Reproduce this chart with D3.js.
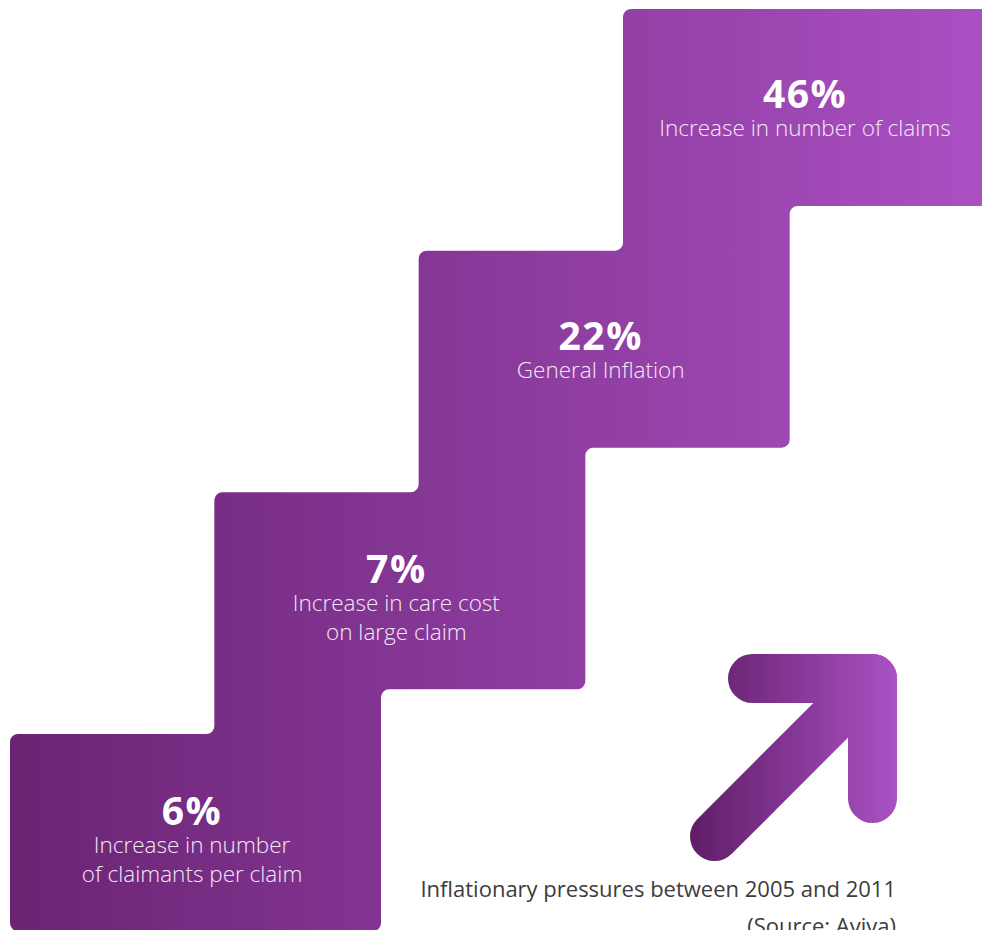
<!DOCTYPE html>
<html>
<head>
<meta charset="utf-8">
<script src="https://cdn.jsdelivr.net/npm/d3@7"></script>
<style>
  html, body { margin: 0; padding: 0; background: #fff; }
  svg { display: block; }
</style>
</head>
<body>
<svg width="982" height="930"></svg>
<script>
(function() {
    'use strict';

    // step data, bottom step first
    let values = ["6%", "7%", "22%", "46%"];
    let labels = [
        ["Increase in number", "of claimants per claim"],
        ["Increase in care cost", "on large claim"],
        ["General Inflation"],
        ["Increase in number of claims"]
    ];
    let caption = ["Inflationary pressures between 2005 and 2011", "(Source: Aviva)"];

    let width = 982, height = 930;
    let svg = d3.select("svg");

    let stepWidth = 371;
    let stepHeight = 197;
    let radius = 8;
    let lineGap = 29;

    let idx = d3.range(values.length);
    let xScale = d3.scaleLinear().domain([0, values.length - 1]).range([10, 623]);
    let yScale = d3.scaleLinear().domain([0, values.length - 1]).range([734, 9]);

    let steps = idx.map(function(i) {
        return {
            L: xScale(i),
            R: xScale(i) + stepWidth,
            T: yScale(i),
            B: yScale(i) + stepHeight,
            value: values[i],
            label: labels[i]
        };
    });

    let defs = svg.append("defs");
    let grad = defs.append("linearGradient")
        .attr("id", "stairGrad")
        .attr("gradientUnits", "userSpaceOnUse")
        .attr("x1", xScale(0)).attr("x2", width)
        .attr("y1", 0).attr("y2", 0);
    grad.append("stop").attr("offset", 0).attr("stop-color", "#6a2473");
    grad.append("stop").attr("offset", 1).attr("stop-color", "#aa50c3");

    // staircase outline, union of the step boxes with rounded corners
    function stairPath(s) {
        let r = radius, n = s.length;
        let p = d3.path();
        p.moveTo(s[0].L, s[0].B - r);
        p.lineTo(s[0].L, s[0].T + r);
        p.arcTo(s[0].L, s[0].T, s[0].L + r, s[0].T, r);
        for (let k = 1; k < n; k++) {
            p.lineTo(s[k].L - r, s[k - 1].T);
            p.arcTo(s[k].L, s[k - 1].T, s[k].L, s[k - 1].T - r, r);
            p.lineTo(s[k].L, s[k].T + r);
            p.arcTo(s[k].L, s[k].T, s[k].L + r, s[k].T, r);
        }
        let last = s[n - 1];
        p.lineTo(last.R - r, last.T);
        p.arcTo(last.R, last.T, last.R, last.T + r, r);
        p.lineTo(last.R, last.B - r);
        p.arcTo(last.R, last.B, last.R - r, last.B, r);
        for (let k = n - 2; k >= 0; k--) {
            p.lineTo(s[k].R + r, s[k + 1].B);
            p.arcTo(s[k].R, s[k + 1].B, s[k].R, s[k + 1].B + r, r);
            p.lineTo(s[k].R, s[k].B - r);
            p.arcTo(s[k].R, s[k].B, s[k].R - r, s[k].B, r);
        }
        p.lineTo(s[0].L + r, s[0].B);
        p.arcTo(s[0].L, s[0].B, s[0].L, s[0].B - r, r);
        p.closePath();
        return p.toString();
    }

    svg.append("path")
        .attr("d", stairPath(steps))
        .attr("fill", "url(#stairGrad)");

    // labels
    let g = svg.selectAll("g.step")
        .data(steps)
        .enter().append("g")
        .attr("class", "step")
        .attr("transform", function(d) {
            let base = d.T + 99 - (d.label.length - 1) * 8;
            return `translate(${d.L + 182}, ${base})`;
        });

    g.append("text")
        .attr("text-anchor", "middle")
        .style("font", "bold 39px 'Open Sans', sans-serif")
        .style("letter-spacing", "1.5px")
        .attr("fill", "#ffffff")
        .text(function(d) { return d.value; });

    g.each(function(d) {
        d3.select(this).selectAll("text.sub")
            .data(d.label)
            .enter().append("text")
            .attr("class", "sub")
            .attr("text-anchor", "middle")
            .attr("y", function(t, j) { return 28 + j * lineGap; })
            .style("font", "300 22.5px 'Open Sans', sans-serif")
            .attr("fill", "#f3e9f5")
            .text(function(t) { return t; });
    });

    // arrow
    let arrowGrad = defs.append("linearGradient")
        .attr("id", "arrowGrad")
        .attr("gradientUnits", "userSpaceOnUse")
        .attr("x1", 690).attr("x2", 897)
        .attr("y1", 0).attr("y2", 0);
    arrowGrad.append("stop").attr("offset", 0).attr("stop-color", "#5f1d66");
    arrowGrad.append("stop").attr("offset", 1).attr("stop-color", "#aa51c4");

    let tip = [872.5, 678.5];
    let shaft = 158, arm = 120, thick = 49;
    let arrowLine = d3.line();
    let ag = svg.append("g")
        .attr("fill", "none")
        .attr("stroke", "url(#arrowGrad)")
        .attr("stroke-width", thick)
        .attr("stroke-linecap", "round")
        .attr("stroke-linejoin", "round");
    ag.append("path")
        .attr("d", arrowLine([[tip[0] - arm, tip[1]], tip, [tip[0], tip[1] + arm]]));
    ag.append("path")
        .attr("d", arrowLine([[tip[0] - shaft, tip[1] + shaft], tip]));

    // caption
    svg.append("text")
        .attr("x", 896).attr("y", 897)
        .attr("text-anchor", "end")
        .style("font", "400 22px 'Open Sans', sans-serif")
        .attr("fill", "#3c3c3c")
        .selectAll("tspan")
        .data(caption)
        .enter().append("tspan")
        .attr("x", 896)
        .attr("dy", function(t, i) { return i === 0 ? 0 : 37; })
        .text(function(t) { return t; });
})();
</script>
</body>
</html>
